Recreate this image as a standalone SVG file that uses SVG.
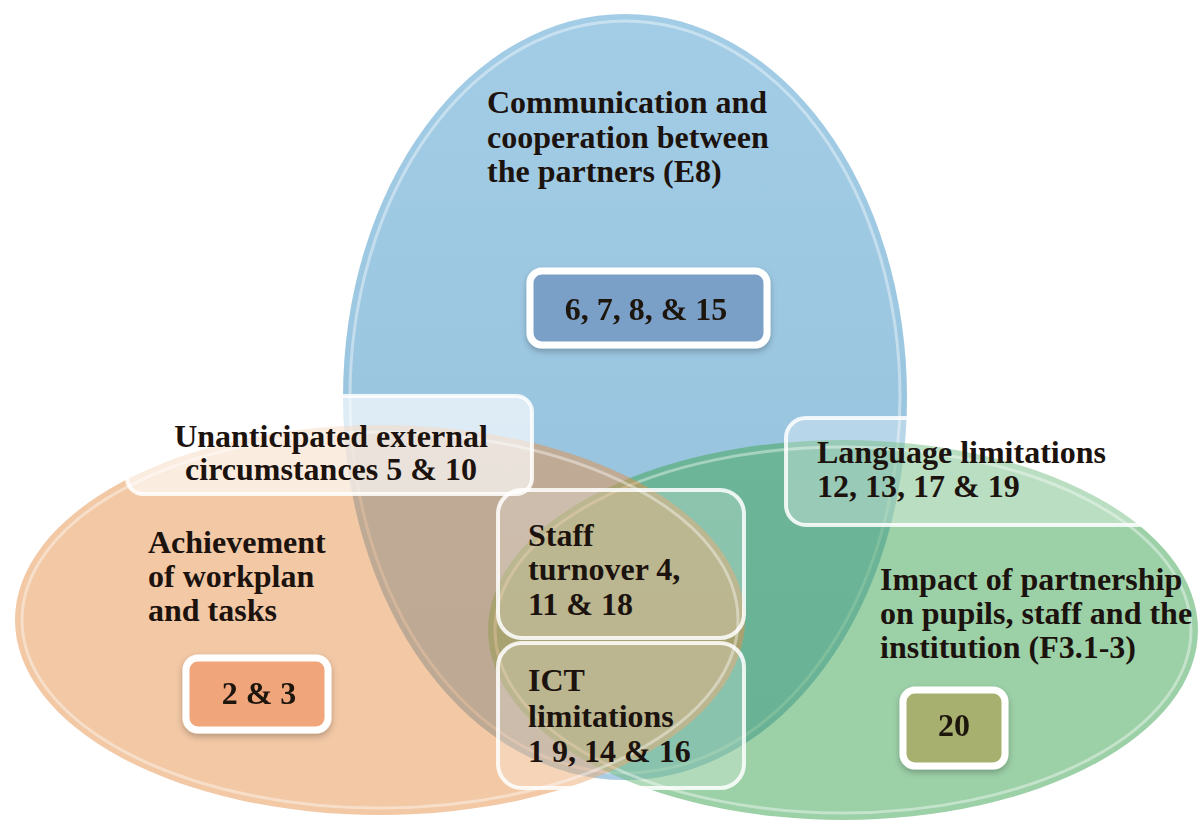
<svg xmlns="http://www.w3.org/2000/svg" width="1200" height="820" viewBox="0 0 1200 820">
  <defs>
    <style>
      .lbl { font-family: "Liberation Serif", "Times New Roman", serif; font-weight: bold; font-size: 32px; fill: #1c130e; }
      .mid { text-anchor: middle; }
      .rim { fill: none; stroke: #ffffff; stroke-opacity: 0.4; stroke-width: 3; }
      .panel { fill: #ffffff; stroke: #ffffff; stroke-width: 4; stroke-opacity: 0.85; }
      .chip { stroke: #ffffff; stroke-width: 7; }
    </style>
    <filter id="soft" x="-20%" y="-20%" width="140%" height="150%">
      <feDropShadow dx="0" dy="3" stdDeviation="3" flood-color="#000000" flood-opacity="0.25"/>
    </filter>
    <linearGradient id="blueFill" x1="0" y1="0" x2="0" y2="1">
      <stop offset="0" stop-color="#a3cde6"/>
      <stop offset="1" stop-color="#93bfdb"/>
    </linearGradient>
  </defs>

  <rect width="1200" height="820" fill="#ffffff"/>

  <!-- three overlapping sets -->
  <g id="circle-communication">
    <ellipse cx="625" cy="397" rx="282" ry="383" fill="url(#blueFill)"/>
    <ellipse class="rim" cx="625" cy="397" rx="275" ry="376"/>
  </g>
  <g id="circle-impact">
    <ellipse cx="843" cy="630" rx="355" ry="190" fill="rgb(68,166,88)" fill-opacity="0.53"/>
    <ellipse class="rim" cx="843" cy="630" rx="348" ry="183"/>
  </g>
  <g id="circle-achievement">
    <ellipse cx="380" cy="620" rx="365" ry="195" fill="rgb(229,145,75)" fill-opacity="0.5"/>
    <ellipse class="rim" cx="380" cy="620" rx="358" ry="188"/>
  </g>

  <!-- set titles and counts -->
  <g id="node-communication">
    <text class="lbl" x="487" y="113">Communication and</text>
    <text class="lbl" x="487" y="148">cooperation between</text>
    <text class="lbl" x="487" y="182">the partners (E8)</text>
  </g>
  <g id="node-communication-count" filter="url(#soft)">
    <rect class="chip" x="530" y="271" width="237" height="74" rx="12" fill="#7aa0c8"/>
    <text class="lbl mid" x="646" y="320">6, 7, 8, &amp; 15</text>
  </g>

  <g id="node-unanticipated">
    <rect class="panel" x="127" y="396" width="405" height="98" rx="16" fill-opacity="0.66"/>
    <text class="lbl mid" x="331" y="447">Unanticipated external</text>
    <text class="lbl mid" x="331" y="480">circumstances 5 &amp; 10</text>
  </g>

  <g id="node-achievement">
    <text class="lbl" x="148" y="553">Achievement</text>
    <text class="lbl" x="148" y="587">of workplan</text>
    <text class="lbl" x="148" y="621">and tasks</text>
  </g>
  <g id="node-achievement-count" filter="url(#soft)">
    <rect class="chip" x="186" y="658" width="142" height="72" rx="12" fill="#f0a57a"/>
    <text class="lbl mid" x="259" y="704">2 &amp; 3</text>
  </g>

  <g id="node-staff">
    <rect class="panel" x="498" y="490" width="246" height="148" rx="24" fill-opacity="0.22"/>
    <text class="lbl" x="528" y="546">Staff</text>
    <text class="lbl" x="528" y="580">turnover 4,</text>
    <text class="lbl" x="528" y="615">11 &amp; 18</text>
  </g>

  <g id="node-ict">
    <rect class="panel" x="498" y="643" width="246" height="145" rx="24" fill-opacity="0.22"/>
    <text class="lbl" x="528" y="691">ICT</text>
    <text class="lbl" x="528" y="727">limitations</text>
    <text class="lbl" x="528" y="762">1 9, 14 &amp; 16</text>
  </g>

  <g id="node-language">
    <rect class="panel" x="786" y="418" width="372" height="107" rx="20" fill-opacity="0.3"/>
    <text class="lbl" x="817" y="463">Language limitations</text>
    <text class="lbl" x="817" y="497">12, 13, 17 &amp; 19</text>
  </g>

  <g id="node-impact">
    <text class="lbl" x="880" y="590">Impact of partnership</text>
    <text class="lbl" x="880" y="624">on pupils, staff and the</text>
    <text class="lbl" x="880" y="658">institution (F3.1-3)</text>
  </g>
  <g id="node-impact-count" filter="url(#soft)">
    <rect class="chip" x="903" y="690" width="102" height="76" rx="12" fill="#a8b070"/>
    <text class="lbl mid" x="954" y="736">20</text>
  </g>

  <g id="connectors"/>
</svg>
